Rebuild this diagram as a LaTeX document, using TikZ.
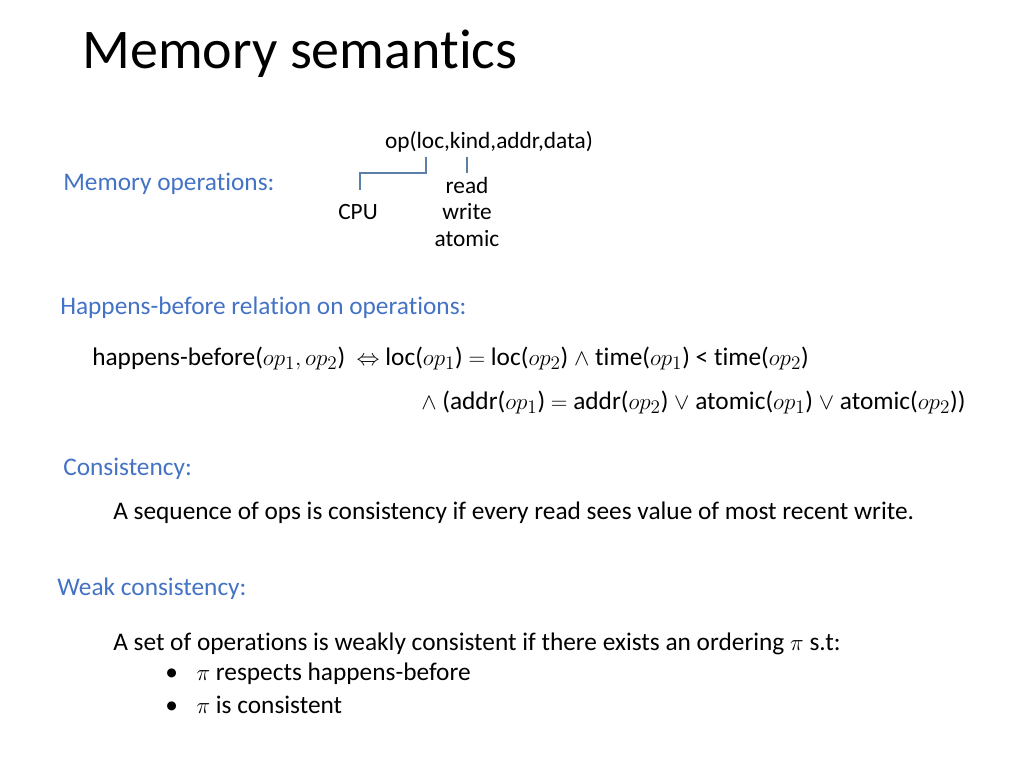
\documentclass[tikz,border=0pt]{standalone}
\usepackage{fontspec}
\setmainfont{Carlito}[Ligatures={NoCommon}]
\definecolor{hd}{HTML}{4472C4}
\definecolor{ln}{HTML}{5B7FA6}
\begin{document}
\begin{tikzpicture}[x=0.75pt,y=-0.75pt,
  t/.style={anchor=west,inner sep=0,font=\fontsize{19}{22}\selectfont},
  h/.style={t,text=hd},
  s/.style={inner sep=0,font=\fontsize{17.5}{20}\selectfont},
  br/.style={draw=ln,line width=0.8pt}]
\useasboundingbox (0,0) rectangle (1024,768);
\node[anchor=west,inner sep=0,font=\fontsize{42}{46}\selectfont] (title) at (82,54) {Memory semantics};
\node[s] (op) at (489,142) {op(loc,kind,addr,data)};
\node[h] (mo) at (63,184) {Memory operations:};
\node[s] (cpu) at (358,212) {CPU};
\node[s] (rd) at (467,185) {read};
\node[s] (wr) at (467,212) {write};
\node[s] (at) at (467,239) {atomic};
\coordinate (c1) at (426,157); \coordinate (c2) at (426,173);
\coordinate (c3) at (360,173); \coordinate (c4) at (360,190);
\coordinate (k1) at (467,157); \coordinate (k2) at (467,173);
\draw[br] (c1) -- (c2) -- (c3) -- (c4);
\draw[br] (k1) -- (k2);
\node[h] (hb) at (60,308) {Happens-before relation on operations:};
\node[t] (hb1) at (92,358) {happens-before($op_1,op_2$) \ $\Leftrightarrow$ loc($op_1$) $=$ loc($op_2$) $\wedge$ time($op_1$) < time($op_2$)};
\node[t] (hb2) at (421,402) {$\wedge$ (addr($op_1$) $=$ addr($op_2$) $\vee$ atomic($op_1$) $\vee$ atomic($op_2$))};
\node[h] (co) at (63,469) {Consistency:};
\node[t] (co1) at (113,513) {A sequence of ops is consistency if every read sees value of most recent write.};
\node[h] (wc) at (57,589) {Weak consistency:};
\node[t] (wc1) at (113,644) {A set of operations is weakly consistent if there exists an ordering $\pi$ s.t:};
\node[t] (b1) at (165,674) {•\hspace{14pt}$\pi$ respects happens-before};
\node[t] (b2) at (165,705) {•\hspace{14pt}$\pi$ is consistent};
\end{tikzpicture}
\end{document}
